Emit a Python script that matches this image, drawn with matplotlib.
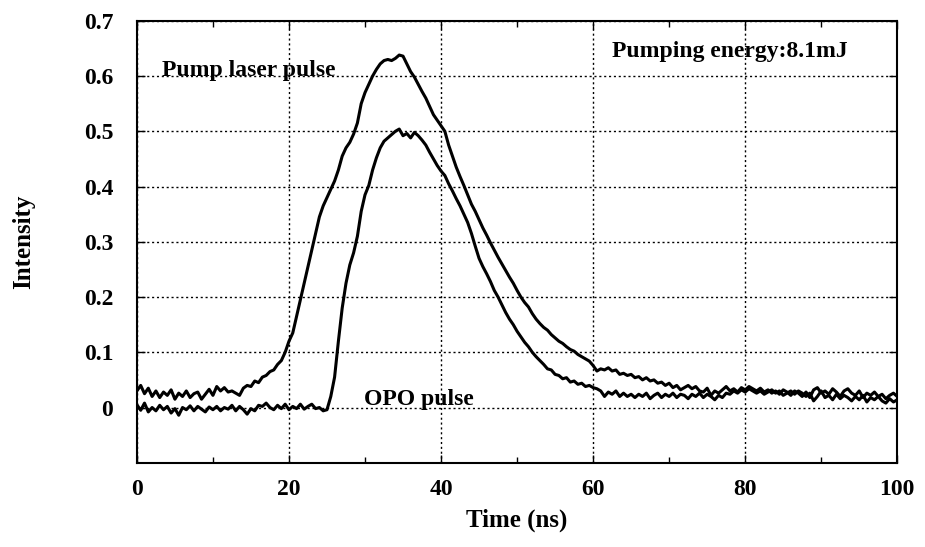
import numpy as np
import matplotlib
matplotlib.use("Agg")
import matplotlib.pyplot as plt
from matplotlib.ticker import MultipleLocator

# time axis, 0.5 ns steps
time_ns = np.arange(0, 100.5, 0.5)

pump = [
    0.030, 0.040, 0.025, 0.035, 0.020, 0.030, 0.018, 0.028, 0.022, 0.032,
    0.015, 0.026, 0.020, 0.030, 0.018, 0.025, 0.028, 0.015, 0.024, 0.033,
    0.022, 0.038, 0.030, 0.036, 0.028, 0.030, 0.026, 0.022, 0.035, 0.040,
    0.038, 0.048, 0.045, 0.055, 0.058, 0.065, 0.068, 0.078, 0.085, 0.100,
    0.120, 0.135, 0.165, 0.195, 0.225, 0.255, 0.285, 0.315, 0.345, 0.365,
    0.380, 0.395, 0.410, 0.430, 0.455, 0.470, 0.480, 0.495, 0.515, 0.550,
    0.570, 0.585, 0.600, 0.612, 0.622, 0.628, 0.630, 0.628, 0.632, 0.638,
    0.636, 0.622, 0.608, 0.598, 0.585, 0.572, 0.560, 0.545, 0.530, 0.520,
    0.510, 0.500, 0.475, 0.455, 0.435, 0.418, 0.402, 0.385, 0.368, 0.355,
    0.340, 0.325, 0.312, 0.298, 0.285, 0.272, 0.260, 0.248, 0.236, 0.225,
    0.212, 0.200, 0.190, 0.182, 0.170, 0.160, 0.152, 0.145, 0.140, 0.132,
    0.126, 0.120, 0.116, 0.110, 0.105, 0.102, 0.096, 0.092, 0.088, 0.084,
    0.076, 0.066, 0.070, 0.068, 0.072, 0.066, 0.068, 0.060, 0.062, 0.058,
    0.060, 0.054, 0.056, 0.050, 0.054, 0.048, 0.050, 0.044, 0.046, 0.040,
    0.044, 0.036, 0.040, 0.032, 0.036, 0.040, 0.034, 0.038, 0.030, 0.028,
    0.035, 0.022, 0.030, 0.026, 0.032, 0.038, 0.030, 0.034, 0.028, 0.036,
    0.032, 0.038, 0.034, 0.030, 0.035, 0.028, 0.032, 0.026, 0.030, 0.024,
    0.032, 0.028, 0.022, 0.030, 0.026, 0.020, 0.028, 0.018, 0.032, 0.036,
    0.026, 0.030, 0.024, 0.034, 0.028, 0.020, 0.030, 0.034, 0.026, 0.022,
    0.030, 0.018, 0.026, 0.022, 0.028, 0.020, 0.024, 0.016, 0.022, 0.026,
    0.020,
]

opo = [
    0.005, -0.005, 0.008, -0.008, 0.000, -0.006, 0.004, -0.004, 0.002, -0.010,
    -0.002, -0.014, 0.000, -0.004, 0.003, -0.006, 0.002, -0.003, -0.008, 0.001,
    -0.004, 0.002, -0.006, 0.000, -0.003, 0.004, -0.006, 0.002, -0.004, -0.012,
    -0.002, -0.006, 0.004, 0.002, 0.008, 0.000, -0.004, 0.004, -0.002, 0.006,
    -0.004, 0.002, -0.002, 0.006, -0.003, 0.002, 0.006, -0.002, 0.000, -0.006,
    -0.004, 0.020, 0.055, 0.120, 0.180, 0.225, 0.258, 0.280, 0.310, 0.355,
    0.385, 0.402, 0.430, 0.452, 0.470, 0.482, 0.488, 0.494, 0.500, 0.504,
    0.492, 0.496, 0.488, 0.498, 0.492, 0.484, 0.475, 0.462, 0.450, 0.438,
    0.428, 0.420, 0.405, 0.392, 0.378, 0.365, 0.350, 0.335, 0.315, 0.292,
    0.270, 0.255, 0.242, 0.228, 0.212, 0.200, 0.186, 0.172, 0.160, 0.150,
    0.138, 0.128, 0.118, 0.110, 0.100, 0.092, 0.085, 0.078, 0.070, 0.068,
    0.060, 0.058, 0.052, 0.054, 0.046, 0.048, 0.042, 0.044, 0.038, 0.040,
    0.036, 0.034, 0.030, 0.020, 0.028, 0.024, 0.030, 0.020, 0.026, 0.020,
    0.024, 0.018, 0.024, 0.020, 0.026, 0.016, 0.022, 0.026, 0.018, 0.024,
    0.020, 0.026, 0.018, 0.024, 0.022, 0.016, 0.024, 0.020, 0.026, 0.018,
    0.024, 0.020, 0.014, 0.022, 0.018, 0.026, 0.024, 0.030, 0.026, 0.032,
    0.028, 0.034, 0.030, 0.026, 0.030, 0.024, 0.028, 0.032, 0.026, 0.030,
    0.022, 0.026, 0.030, 0.024, 0.030, 0.026, 0.020, 0.026, 0.012, 0.020,
    0.030, 0.018, 0.022, 0.014, 0.024, 0.016, 0.022, 0.018, 0.012, 0.020,
    0.014, 0.022, 0.010, 0.018, 0.014, 0.020, 0.012, 0.008, 0.016, 0.010,
    0.014,
]

plt.rcParams['font.family'] = ['Liberation Serif', 'DejaVu Serif']
plt.rcParams['font.weight'] = 'bold'

fig = plt.figure(figsize=(9.25, 5.47), dpi=100)
ax = fig.add_axes([0.148, 0.154, 0.822, 0.808])

ax.plot(time_ns, pump, color='black', lw=2.2)
ax.plot(time_ns, opo, color='black', lw=2.2)

ax.set_xlim(0, 100)
ax.set_ylim(-0.1, 0.7)
ax.xaxis.set_major_locator(MultipleLocator(20))
ax.xaxis.set_minor_locator(MultipleLocator(10))
ax.set_yticks([0, 0.1, 0.2, 0.3, 0.4, 0.5, 0.6, 0.7])
ax.set_yticklabels(['0', '0.1', '0.2', '0.3', '0.4', '0.5', '0.6', '0.7'])
ax.tick_params(which='both', direction='in', top=True, right=True,
               labelsize=17, width=1)
ax.tick_params(which='major', length=6)
ax.tick_params(which='minor', length=4)
ax.tick_params(axis='x', pad=12)
ax.tick_params(axis='y', pad=17)
ax.grid(True, which='major', color='black', linestyle=(0, (1.5, 2)), lw=1)
for s in ax.spines.values():
    s.set_linewidth(1.5)

ax.set_xlabel('Time (ns)', fontsize=18, fontweight='bold', labelpad=6)
ax.set_ylabel('Intensity', fontsize=18, fontweight='bold', labelpad=35)

ax.text(3.3, 0.6, 'Pump laser pulse', fontsize=17, fontweight='bold', va='baseline')
ax.text(29.9, 0.005, 'OPO pulse', fontsize=17, fontweight='bold', va='baseline')
ax.text(62.5, 0.634, 'Pumping energy:8.1mJ', fontsize=17, fontweight='bold', va='baseline')

fig.savefig('out.png', dpi=100)
